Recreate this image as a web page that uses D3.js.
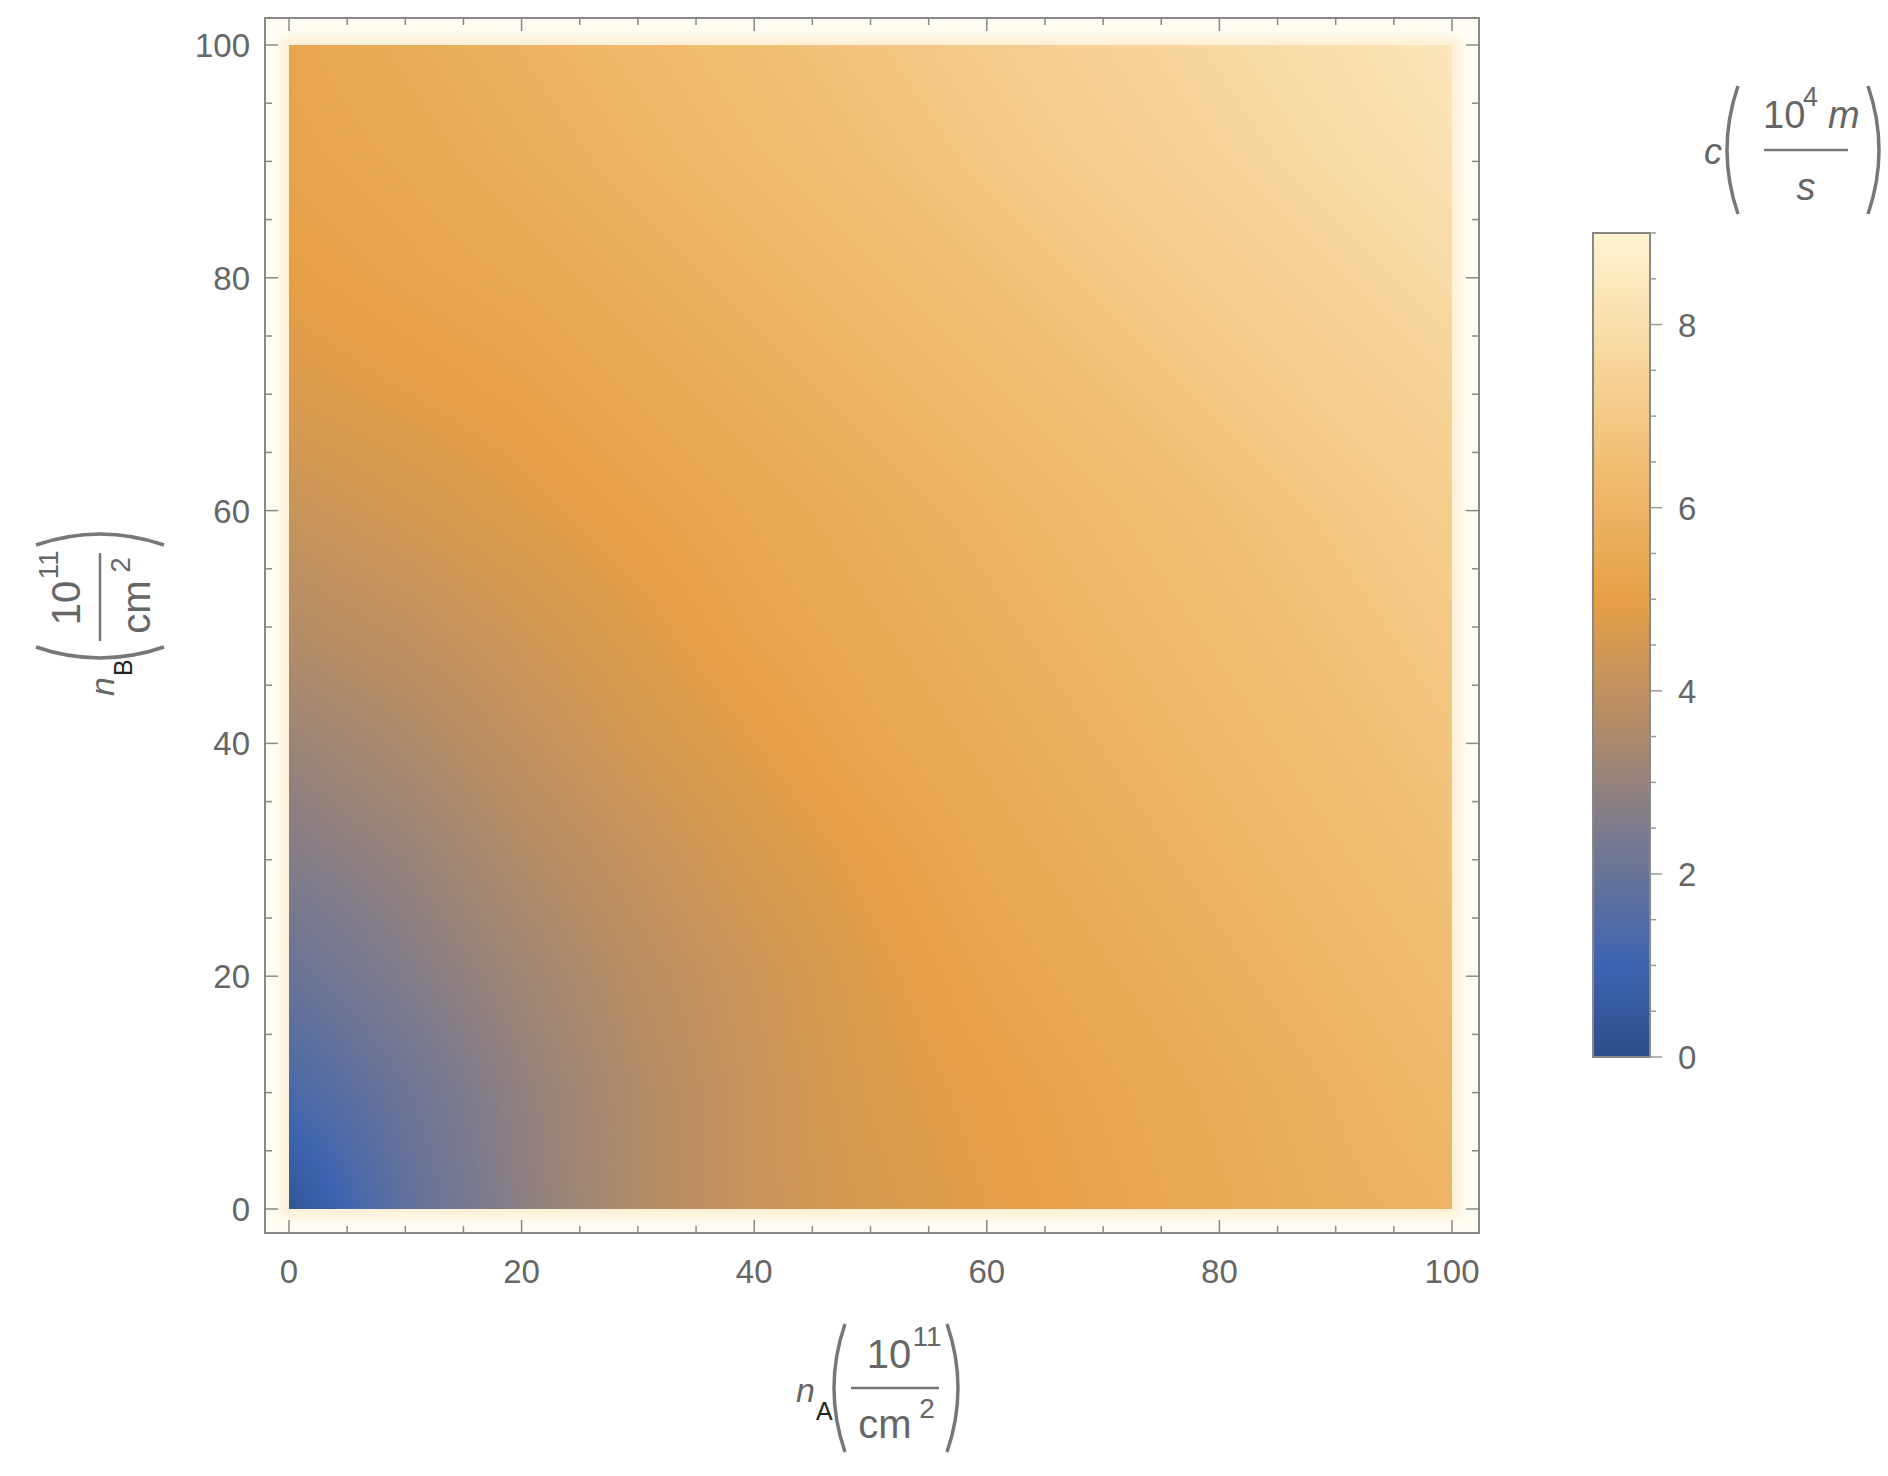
<!DOCTYPE html><html><head><meta charset="utf-8"><script src="https://cdn.jsdelivr.net/npm/d3@7"></script>
<style>body{margin:0;background:#fff}text{font-family:"Liberation Sans",Arial,sans-serif;fill:#666}</style></head><body>
<svg id="s" width="1888" height="1476"></svg>
<script>
const nA=[0,10,20,30,40,50,60,70,80,90,100];
const nB=[0,10,20,30,40,50,60,70,80,90,100];
// rows: nB, cols: nA ; values of c in 10^4 m/s
const cRows=[
[0.3,1.8,2.8,3.6,4.2,4.6,4.9,5.2,5.5,5.8,6.0],
[1.3,2.1,2.9,3.6,4.2,4.7,5.0,5.3,5.6,5.9,6.2],
[2.0,2.6,3.2,3.8,4.3,4.8,5.2,5.5,5.8,6.1,6.4],
[2.6,3.0,3.6,4.1,4.6,5.0,5.4,5.7,6.0,6.3,6.6],
[3.1,3.5,4.0,4.5,4.9,5.3,5.6,5.9,6.2,6.5,6.8],
[3.7,4.0,4.4,4.8,5.2,5.5,5.8,6.1,6.4,6.7,7.0],
[4.2,4.5,4.8,5.1,5.4,5.7,6.0,6.3,6.6,6.9,7.2],
[4.7,4.9,5.1,5.4,5.7,6.0,6.3,6.6,6.9,7.2,7.5],
[5.0,5.2,5.4,5.7,6.0,6.3,6.6,6.9,7.2,7.5,7.8],
[5.2,5.4,5.7,6.0,6.3,6.6,6.9,7.2,7.5,7.8,8.1],
[5.3,5.6,5.9,6.2,6.5,6.8,7.1,7.4,7.7,8.0,8.4]];
const axisTicks=[0,20,40,60,80,100];
const barTicks=[0,2,4,6,8];
const cStops=[0,1,2.5,3.5,5,6.5,9];
const cColors=["#2c4d88","#3d64b0","#7d7b8c","#ad8a6c","#e6a047","#f1bf74","#fff4d2"];

const svg=d3.select("#s");
const defs=svg.append("defs");
defs.append("filter").attr("id","bl").append("feGaussianBlur").attr("stdDeviation",5);
const L=289,R=1452,T=45,B=1209;
const x=d3.scaleLinear().domain([0,100]).range([L,R]);
const y=d3.scaleLinear().domain([0,100]).range([B,T]);
const col=d3.scaleLinear().domain(cStops).range(cColors).interpolate(d3.interpolateRgb).clamp(true);
svg.append("rect").attr("x",265).attr("y",18).attr("width",1214).attr("height",1215).attr("fill","#fffdf3");
svg.append("rect").attr("x",L-8).attr("y",T-8).attr("width",R-L+16).attr("height",B-T+16).attr("fill","#fdf1d6").attr("filter","url(#bl)");
const W=Math.round(R-L),H=Math.round(B-T);
const cv=document.createElement("canvas");cv.width=W;cv.height=H;
const ctx=cv.getContext("2d");const img=ctx.createImageData(W,H);
const bil=(a,b)=>{const fi=Math.min(b/10,9.9999),fj=Math.min(a/10,9.9999);const i=Math.floor(fi),j=Math.floor(fj),u=fi-i,v=fj-j;
return cRows[i][j]*(1-u)*(1-v)+cRows[i][j+1]*(1-u)*v+cRows[i+1][j]*u*(1-v)+cRows[i+1][j+1]*u*v;};
for(let py=0;py<H;py++)for(let px=0;px<W;px++){const a=x.invert(L+px+.5),b=y.invert(T+py+.5);
const c=d3.rgb(col(bil(a,b)));const k=4*(py*W+px);img.data[k]=c.r;img.data[k+1]=c.g;img.data[k+2]=c.b;img.data[k+3]=255;}
ctx.putImageData(img,0,0);
svg.append("image").attr("x",L).attr("y",T).attr("width",W).attr("height",H).attr("href",cv.toDataURL());
const fr={x0:265,x1:1479,y0:18,y1:1233};
svg.append("rect").attr("x",fr.x0).attr("y",fr.y0).attr("width",fr.x1-fr.x0).attr("height",fr.y1-fr.y0).attr("fill","none").attr("stroke","#888").attr("stroke-width",2);
const g=svg.append("g").attr("stroke","#888").attr("stroke-width",1.5);
for(let v=0;v<=100;v+=5){const len=v%20===0?13:7;
g.append("line").attr("x1",x(v)).attr("x2",x(v)).attr("y1",fr.y1).attr("y2",fr.y1-len);
g.append("line").attr("x1",x(v)).attr("x2",x(v)).attr("y1",fr.y0).attr("y2",fr.y0+len);
g.append("line").attr("y1",y(v)).attr("y2",y(v)).attr("x1",fr.x0).attr("x2",fr.x0+len);
g.append("line").attr("y1",y(v)).attr("y2",y(v)).attr("x1",fr.x1).attr("x2",fr.x1-len);}
axisTicks.forEach(v=>{
svg.append("text").attr("x",x(v)).attr("y",1283).attr("text-anchor","middle").attr("font-size",33).text(v);
svg.append("text").attr("x",250).attr("y",y(v)+12).attr("text-anchor","end").attr("font-size",33).text(v);});
function paren(t,px,h,dir){
 t.append("path").attr("d",`M${px},${-h/2} Q${px+dir*22},0 ${px},${h/2}`).attr("fill","none").attr("stroke","#777").attr("stroke-width",3.5);}
function frac(gx,gy,sub,rot){const t=svg.append("g").attr("transform",`translate(${gx},${gy}) rotate(${rot})`);
t.append("text").attr("x",-80).attr("y",14).attr("font-size",34).attr("font-style","italic").attr("text-anchor","end").text("n");
t.append("text").attr("x",-79).attr("y",32).attr("font-size",25).attr("style","fill:#222").text(sub);
paren(t,-50,128,-1);paren(t,52,128,1);
t.append("text").attr("x",-6).attr("y",-20).attr("font-size",40).attr("text-anchor","middle").text("10");
t.append("text").attr("x",32).attr("y",-42).attr("font-size",28).attr("text-anchor","middle").text("11");
t.append("line").attr("x1",-44).attr("x2",44).attr("y1",0).attr("y2",0).attr("stroke","#777").attr("stroke-width",2.5);
t.append("text").attr("x",-10).attr("y",50).attr("font-size",40).attr("text-anchor","middle").text("cm");
t.append("text").attr("x",32).attr("y",30).attr("font-size",28).attr("text-anchor","middle").text("2");}
frac(895,1388,"A",0);
frac(100,597,"B",-90);
const cb=d3.scaleLinear().domain([0,9]).range([1057,233]);
const gr=defs.append("linearGradient").attr("id","cg").attr("x1",0).attr("y1",1).attr("x2",0).attr("y2",0);
cStops.forEach((s,i)=>gr.append("stop").attr("offset",s/9).attr("stop-color",cColors[i]));
svg.append("rect").attr("x",1593).attr("y",233).attr("width",57).attr("height",824).attr("fill","url(#cg)").attr("stroke","#888").attr("stroke-width",2);
for(let v=0;v<=9;v+=0.5){const len=v%2===0?12:6;svg.append("line").attr("x1",1650).attr("x2",1650+len).attr("y1",cb(v)).attr("y2",cb(v)).attr("stroke","#999").attr("stroke-width",1.5);}
barTicks.forEach(v=>svg.append("text").attr("x",1678).attr("y",cb(v)+12).attr("font-size",33).text(v));
const ct=svg.append("g").attr("transform","translate(1806,150)");
ct.append("text").attr("x",-84).attr("y",14).attr("font-size",36).attr("font-style","italic").attr("text-anchor","end").text("c");
paren(ct,-68,128,-1);paren(ct,62,128,1);
ct.append("text").attr("x",-43).attr("y",-22).attr("font-size",38).text("10");
ct.append("text").attr("x",-3).attr("y",-44).attr("font-size",27).text("4");
ct.append("text").attr("x",22).attr("y",-22).attr("font-size",38).attr("font-style","italic").text("m");
ct.append("line").attr("x1",-42).attr("x2",42).attr("y1",0).attr("y2",0).attr("stroke","#777").attr("stroke-width",2.5);
ct.append("text").attr("x",0).attr("y",50).attr("font-size",38).attr("font-style","italic").attr("text-anchor","middle").text("s");
</script></body></html>
